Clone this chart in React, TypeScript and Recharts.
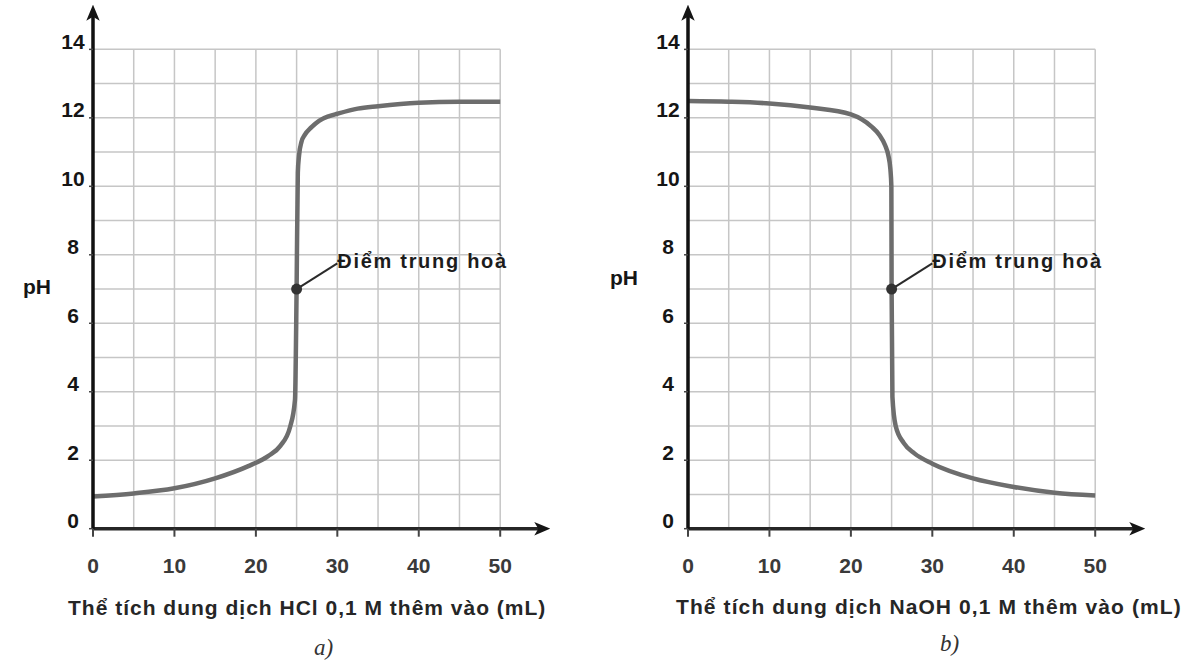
import { Line, LineChart, ReferenceDot, ReferenceLine, XAxis, YAxis } from "recharts";

// thể tích thêm vào (mL) và pH
const hclVolume = [0, 5, 10, 15, 19, 21.5, 23, 24.2, 24.8, 25, 25.15, 25.3, 25.6, 26, 26.8, 27.8, 29, 30, 32.5, 35, 40, 45, 50];
const hclPh = [0.94, 1.03, 1.18, 1.47, 1.82, 2.12, 2.42, 2.97, 3.76, 7, 10.4, 10.9, 11.3, 11.5, 11.72, 11.92, 12.05, 12.12, 12.27, 12.34, 12.44, 12.47, 12.47];

const naohVolume = [0, 5, 10, 15, 20, 22.5, 23.5, 24.2, 24.6, 24.85, 24.97, 25, 25.1, 25.5, 26.5, 27.8, 30, 35, 40, 45, 50];
const naohPh = [12.49, 12.47, 12.42, 12.3, 12.1, 11.75, 11.5, 11.2, 10.9, 10.5, 10.0, 7, 3.85, 3.0, 2.5, 2.2, 1.9, 1.47, 1.22, 1.05, 0.97];

const volumeTicks = [0, 10, 20, 30, 40, 50];
const phTicks = [0, 2, 4, 6, 8, 10, 12, 14];
const gridVolume = [0, 5, 10, 15, 20, 25, 30, 35, 40, 45, 50];
const gridPh = [0, 1, 2, 3, 4, 5, 6, 7, 8, 9, 10, 11, 12, 13, 14];

const neutralVolume = 25;
const neutralPh = 7;
const calloutVolume = 30;
const calloutPh = 7.75;
const calloutText = "Điểm trung hoà";

const FONT = "'Liberation Sans', Arial, sans-serif";
const W = 600;
const H = 666;

function XTick({ x, y, payload }: any) {
  return (
    <text x={x} y={y + 29} textAnchor="middle" dominantBaseline="central"
      fontFamily={FONT} fontWeight={700} fontSize={21} fill="#3a3a3a">
      {payload.value}
    </text>
  );
}

function YTick({ x, y, payload }: any) {
  return (
    <text x={x - 16} y={y - 8} textAnchor="middle" dominantBaseline="central"
      fontFamily={FONT} fontWeight={700} fontSize={21} fill="#151515">
      {payload.value}
    </text>
  );
}

function Callout({ viewBox }: any) {
  return (
    <text x={viewBox.x} y={viewBox.y - 2} dominantBaseline="central" letterSpacing={1.7}
      fontFamily={FONT} fontWeight={700} fontSize={20} fill="#1c1c1c">
      {calloutText}
    </text>
  );
}

function Panel({ id, volume, ph, left }: { id: string; volume: number[]; ph: number[]; left: number }) {
  const rows = volume.map((v, i) => ({ v, ph: ph[i] }));
  return (
    <div style={{ position: "absolute", left, top: 0 }}>
      <LineChart width={W} height={H} data={rows}
        margin={{ top: 10, right: 55, bottom: 107.3, left: 53 }}>
        <defs>
          <marker id={"arr-" + id} viewBox="0 0 12 10" refX="8" refY="5"
            markerWidth="4.6" markerHeight="4.2" orient="auto-start-reverse" markerUnits="strokeWidth">
            <path d="M0,0 L12,5 L0,10 L3,5 z" fill="#151515" />
          </marker>
        </defs>
        {gridPh.map((p) => (
          <ReferenceLine key={"h" + p} segment={[{ x: 0, y: p }, { x: 50, y: p }]}
            stroke="#c6c6c6" strokeWidth={1.5} />
        ))}
        {gridVolume.map((g) => (
          <ReferenceLine key={"v" + g} segment={[{ x: g, y: 0 }, { x: g, y: 14 }]}
            stroke="#c6c6c6" strokeWidth={1.5} />
        ))}
        <XAxis dataKey="v" type="number" domain={[0, 55.5]} ticks={volumeTicks}
          allowDataOverflow height={30} tickSize={8} tickMargin={0}
          axisLine={{ stroke: "#262626", strokeWidth: 3.5, markerEnd: `url(#arr-${id})` }}
          tickLine={{ stroke: "#444", strokeWidth: 2 }} tick={<XTick />} />
        <YAxis type="number" domain={[0, 15.15]} ticks={phTicks} allowDataOverflow
          width={40} tickSize={4} tickMargin={0}
          axisLine={{ stroke: "#111", strokeWidth: 3.5, markerStart: `url(#arr-${id})` }}
          tickLine={{ stroke: "#444", strokeWidth: 1.5 }} tick={<YTick />} />
        <Line type="monotone" dataKey="ph" stroke="#6d6d6d" strokeWidth={4.5}
          dot={false} activeDot={false} isAnimationActive={false} />
        <ReferenceLine segment={[{ x: neutralVolume, y: neutralPh }, { x: calloutVolume, y: calloutPh }]}
          stroke="#2a2a2a" strokeWidth={2} />
        <ReferenceDot x={neutralVolume} y={neutralPh} r={5.5} fill="#333" stroke="none" />
        <ReferenceDot x={calloutVolume} y={calloutPh} r={0} fill="none" stroke="none"
          label={<Callout />} />
      </LineChart>
    </div>
  );
}

const textStyle: React.CSSProperties = {
  position: "absolute",
  fontFamily: FONT,
  fontWeight: 700,
  color: "#262626",
  whiteSpace: "nowrap",
  lineHeight: 1,
};

const captionStyle: React.CSSProperties = {
  ...textStyle,
  fontSize: 23,
  fontWeight: 400,
  fontStyle: "italic",
  fontFamily: "'Liberation Serif', 'Times New Roman', serif",
  color: "#333",
};

export default function App() {
  return (
    <div style={{ position: "absolute", left: 0, top: 0, width: 1189, height: 666, background: "#fff", overflow: "hidden" }}>
      <Panel id="a" volume={hclVolume} ph={hclPh} left={0} />
      <Panel id="b" volume={naohVolume} ph={naohPh} left={595} />

      <div style={{ ...textStyle, left: 23, top: 276, fontSize: 21, color: "#151515" }}>pH</div>
      <div style={{ ...textStyle, left: 610, top: 267, fontSize: 21, color: "#151515" }}>pH</div>

      <div style={{ ...textStyle, left: 68, top: 597, fontSize: 21, letterSpacing: 1 }}>
        Thể tích dung dịch HCl 0,1 M thêm vào (mL)
      </div>
      <div style={{ ...textStyle, left: 676, top: 596, fontSize: 21, letterSpacing: 1.1 }}>
        Thể tích dung dịch NaOH 0,1 M thêm vào (mL)
      </div>

      <div style={{ ...captionStyle, left: 314, top: 636 }}>a)</div>
      <div style={{ ...captionStyle, left: 940, top: 632 }}>b)</div>
    </div>
  );
}
